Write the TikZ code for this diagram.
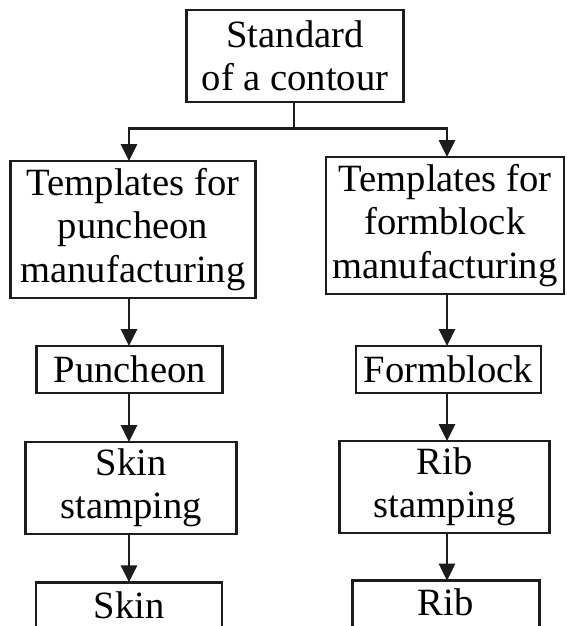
\documentclass[tikz,border=0pt]{standalone}
\usepackage{fontspec}
\setmainfont{Liberation Serif}
\usetikzlibrary{arrows.meta}
\definecolor{ink}{RGB}{28,28,28}
\begin{document}
\begin{tikzpicture}[x=1pt,y=-1pt,
  box/.style={draw=ink, line width=2.7pt, text=black, inner sep=0pt, outer sep=0pt, align=center, font=\fontsize{38.6}{43.5}\selectfont},
  arr/.style={draw=ink, line width=2.7pt, -{Triangle[length=17pt,width=16pt]}},
  ln/.style={draw=ink, line width=2.7pt}]
\useasboundingbox (0,0) rectangle (566,626);
\clip (0,0) rectangle (566,626);
\fill[white] (0,0) rectangle (566,626);
\node[box, minimum width=217pt, minimum height=92pt, font=\fontsize{38.6}{42.5}\selectfont] (top) at (295,56) {Standard\\of a contour};
\node[box, minimum width=245pt, minimum height=137pt] (tl) at (133,229.5) {Templates for\\puncheon\\manufacturing};
\node[box, minimum width=238pt, minimum height=137pt] (tr) at (445,225.5) {Templates for\\formblock\\manufacturing};
\node[box, minimum width=186pt, minimum height=47pt] (pun) at (129.7,369.5) {Puncheon};
\node[box, minimum width=185pt, minimum height=47pt] (fb) at (448.4,369.5) {Formblock};
\node[box, minimum width=211pt, minimum height=92pt] (ss) at (131.3,488) {Skin\\stamping};
\node[box, minimum width=210pt, minimum height=92pt] (rs) at (444.7,487) {Rib\\stamping};
\node[box, anchor=north, minimum width=186pt, text height=26pt, text depth=80pt, inner ysep=10pt] (sk) at (129,582.3) {Skin};
\node[box, anchor=north, minimum width=187pt, text height=26pt, text depth=80pt, inner ysep=8.3pt] (rb) at (445.7,580.7) {Rib};
\coordinate (lc) at (129,0);
\coordinate (rc) at (447,0);
\coordinate (j) at (294,128.7);
\draw[ln] (top.south -| j) -- (j);
\draw[arr] (j) -| (tl.north -| lc);
\draw[arr] (j) -| (tr.north -| rc);
\draw[arr] (tl.south -| lc) -- (pun.north -| lc);
\draw[arr] (pun.south -| lc) -- (ss.north -| lc);
\draw[arr] (ss.south -| lc) -- (sk.north -| lc);
\draw[arr] (tr.south -| rc) -- (fb.north -| rc);
\draw[arr] (fb.south -| rc) -- (rs.north -| rc);
\draw[arr] (rs.south -| rc) -- (rb.north -| rc);
\end{tikzpicture}
\end{document}
